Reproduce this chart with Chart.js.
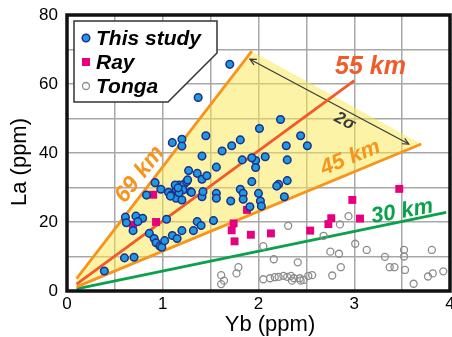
<!DOCTYPE html>
<html>
<head>
<meta charset="utf-8">
<script src="https://cdn.jsdelivr.net/npm/chart.js@4/dist/chart.umd.min.js"></script>
<style>
  html, body { margin: 0; padding: 0; background: #fff; }
</style>
</head>
<body>
<canvas id="chart" width="452" height="337"></canvas>
<script>
// Yb / La data (ppm)
const thisStudyYb = [0.39,0.60,0.70,0.61,0.62,0.72,0.69,0.79,0.74,0.83,0.92,0.98,0.86,0.91,0.93,0.97,0.99,1.02,1.04,1.06,1.09,1.10,1.15,1.20,1.32,1.36,1.40,1.53,1.14,1.17,1.22,1.25,1.26,1.21,1.29,1.14,1.20,1.17,1.08,1.27,1.36,1.41,1.46,1.56,1.41,1.42,1.56,1.56,1.71,1.41,1.62,1.83,1.97,1.97,2.07,1.93,2.30,1.93,1.81,1.84,2.00,1.84,2.02,2.03,1.91,2.21,2.19,2.30,2.27,1.70,1.37,1.10,1.20,1.20,1.45,1.72,1.81,2.01,2.23,2.44,2.29,2.51,1.30,1.13,1.16];
const thisStudyLa = [5.8,9.6,9.8,21.4,19.8,21.7,17.5,21.1,20.1,27.8,31.4,29.5,16.7,15.2,14.0,13.0,12.7,14.6,20.8,28.6,27.8,16.1,15.2,17.5,17.5,20.1,19.0,20.4,29.5,30.7,30.9,31.7,32.2,29.3,28.8,26.9,26.4,28.5,27.5,34.9,34.1,32.4,33.4,35.9,27.3,28.8,28.3,26.9,26.1,39.1,40.6,38.0,37.8,35.8,38.9,38.6,38.0,31.7,29.5,28.3,28.3,26.6,26.1,24.6,24.4,30.9,30.4,32.0,27.3,65.7,56.1,43.0,44.0,42.0,45.0,42.1,43.8,47.1,49.7,45.0,42.1,42.1,28.6,30.7,29.9];

const rayYb = [0.69,0.90,0.93,1.72,1.74,1.75,1.88,1.92,2.13,2.54,2.73,2.76,2.98,3.06,3.47];
const rayLa = [19.2,27.9,20.0,17.6,19.6,14.4,23.5,16.3,16.7,17.5,19.4,21.1,26.4,21.0,29.6];

const tongaYb = [1.61,1.64,1.61,1.77,1.79,2.05,2.05,2.12,2.17,2.21,2.26,2.30,2.34,2.37,2.35,2.43,2.44,2.47,2.52,2.56,2.16,2.41,2.31,2.68,2.85,2.94,2.75,2.84,3.01,3.13,3.32,3.52,3.52,3.81,2.86,2.77,3.37,3.42,3.53,3.62,3.77,3.82,3.93];
const tongaLa = [4.6,3.0,2.0,5.1,6.9,13.0,3.4,3.7,4.0,4.1,4.4,4.1,4.4,3.7,3.0,3.7,3.0,3.2,4.4,4.6,9.2,8.3,18.9,16.0,19.3,21.7,11.4,10.8,13.7,11.9,9.9,11.9,10.0,11.9,6.9,4.5,6.9,6.9,6.1,2.1,4.2,5.1,5.7];

// crustal-thickness reference lines (start/end)
const line69Yb = [0.1, 1.93], line69La = [3.6, 69.5];
const line55Yb = [0.1, 3.0],  line55La = [2.0, 61.0];
const line45Yb = [0.1, 3.7],  line45La = [1.2, 42.6];
const line30Yb = [0.1, 3.96], line30La = [0.6, 22.8];

// shaded 2-sigma field
const fieldYb = [0.1, 1.93, 3.7, 0.1];
const fieldLa = [3.6, 69.5, 42.6, 1.2];

// 2-sigma arrow
const sigmaYb = [1.91, 3.57];
const sigmaLa = [67.2, 42.6];

const xTicks = [0, 1, 2, 3, 4];
const yTicks = [0, 20, 40, 60, 80];

const pts = (xs, ys) => xs.map((v, i) => ({ x: v, y: ys[i] }));

const ORANGE = '#f7941d';
const RED = '#f15a29';
const GREEN = '#0aa14b';
const FONT = '"Liberation Sans", Arial, sans-serif';

const lineLabels = [
    { text: '55 km', x: 3.17, y: 65.0, rot: 0, size: 25, color: RED },
    { text: '45 km', x: 2.96, y: 38.6, rot: -22, size: 22, color: ORANGE },
    { text: '30 km', x: 3.5, y: 23.0, rot: -10, size: 22, color: GREEN },
    { text: '69 km', x: 0.76, y: 33.8, rot: -52, size: 23, color: ORANGE }
];

function lineSet(xs, ys, color) {
    return {
        type: 'line',
        data: pts(xs, ys),
        borderColor: color,
        borderWidth: 2.8,
        pointRadius: 0,
        fill: false,
        order: 5
    };
}

const annotate = {
    id: 'annotate',
    afterDatasetsDraw(chart) {
        const { ctx, chartArea: a, scales: { x, y } } = chart;
        ctx.save();

        // arrow heads on the 2 sigma line
        const p0 = { x: x.getPixelForValue(sigmaYb[0]), y: y.getPixelForValue(sigmaLa[0]) };
        const p1 = { x: x.getPixelForValue(sigmaYb[1]), y: y.getPixelForValue(sigmaLa[1]) };
        const ang = Math.atan2(p1.y - p0.y, p1.x - p0.x);
        ctx.strokeStyle = '#3a3a3a';
        ctx.lineWidth = 1.2;
        [[p1, ang], [p0, ang + Math.PI]].forEach(([p, t]) => {
            ctx.beginPath();
            ctx.moveTo(p.x - 7 * Math.cos(t - 0.45), p.y - 7 * Math.sin(t - 0.45));
            ctx.lineTo(p.x, p.y);
            ctx.lineTo(p.x - 7 * Math.cos(t + 0.45), p.y - 7 * Math.sin(t + 0.45));
            ctx.stroke();
        });

        // 2 sigma label
        ctx.save();
        ctx.translate(x.getPixelForValue(2.9), y.getPixelForValue(49.2));
        ctx.rotate(ang);
        ctx.fillStyle = '#3a3a3a';
        ctx.font = 'italic bold 17px ' + FONT;
        ctx.textAlign = 'center';
        ctx.textBaseline = 'middle';
        ctx.fillText('2σ', 0, 0);
        ctx.restore();

        // km labels
        lineLabels.forEach(l => {
            ctx.save();
            ctx.translate(x.getPixelForValue(l.x), y.getPixelForValue(l.y));
            ctx.rotate(l.rot * Math.PI / 180);
            ctx.fillStyle = l.color;
            ctx.font = 'italic bold ' + l.size + 'px ' + FONT;
            ctx.textAlign = 'center';
            ctx.textBaseline = 'middle';
            ctx.fillText(l.text, 0, 0);
            ctx.restore();
        });

        // plot frame
        ctx.strokeStyle = '#111';
        ctx.lineWidth = 3.5;
        ctx.strokeRect(a.left, a.top, a.right - a.left, a.bottom - a.top);

        // axis titles
        ctx.fillStyle = '#000';
        ctx.font = '22px ' + FONT;
        ctx.textAlign = 'center';
        ctx.textBaseline = 'middle';
        ctx.fillText('Yb (ppm)', 270, 325);
        ctx.save();
        ctx.translate(20, 162);
        ctx.rotate(-Math.PI / 2);
        ctx.fillText('La (ppm)', 0, 0);
        ctx.restore();

        // legend box with clipped corner
        ctx.beginPath();
        ctx.moveTo(74, 21);
        ctx.lineTo(217, 21);
        ctx.lineTo(217, 53);
        ctx.lineTo(168, 102);
        ctx.lineTo(74, 102);
        ctx.closePath();
        ctx.fillStyle = '#fff';
        ctx.fill();
        ctx.strokeStyle = '#333';
        ctx.lineWidth = 1.5;
        ctx.stroke();

        const rows = [
            { text: 'This study', y: 38 },
            { text: 'Ray', y: 62 },
            { text: 'Tonga', y: 86 }
        ];
        // markers
        ctx.beginPath();
        ctx.arc(86, rows[0].y, 3.8, 0, Math.PI * 2);
        ctx.fillStyle = '#1e9be0';
        ctx.fill();
        ctx.strokeStyle = '#1f2f8a';
        ctx.lineWidth = 1.5;
        ctx.stroke();
        ctx.fillStyle = '#e6007e';
        ctx.fillRect(82, rows[1].y - 4, 8, 8);
        ctx.beginPath();
        ctx.arc(86, rows[2].y, 3.5, 0, Math.PI * 2);
        ctx.strokeStyle = '#8c8c8c';
        ctx.lineWidth = 1.3;
        ctx.stroke();

        ctx.fillStyle = '#000';
        ctx.font = 'italic bold 21px ' + FONT;
        ctx.textAlign = 'left';
        ctx.textBaseline = 'middle';
        rows.forEach(r => ctx.fillText(r.text, 96, r.y + 1));

        ctx.restore();
    }
};

const ctx = document.getElementById('chart').getContext('2d');
new Chart(ctx, {
    type: 'scatter',
    data: {
        datasets: [
            {
                label: 'This study',
                data: pts(thisStudyYb, thisStudyLa),
                pointRadius: 3.8,
                pointBackgroundColor: '#1e9be0',
                pointBorderColor: '#1f2f8a',
                pointBorderWidth: 1.5,
                order: 1
            },
            {
                label: 'Ray',
                data: pts(rayYb, rayLa),
                pointStyle: 'rect',
                pointRadius: 5.6,
                pointBackgroundColor: '#e6007e',
                pointBorderWidth: 0,
                order: 2
            },
            {
                label: 'Tonga',
                data: pts(tongaYb, tongaLa),
                pointRadius: 3.5,
                pointBackgroundColor: 'rgba(255,255,255,0)',
                pointBorderColor: '#8c8c8c',
                pointBorderWidth: 1.3,
                order: 3
            },
            lineSet(line69Yb, line69La, ORANGE),
            lineSet(line55Yb, line55La, RED),
            lineSet(line45Yb, line45La, ORANGE),
            lineSet(line30Yb, line30La, GREEN),
            {
                type: 'line',
                data: pts(sigmaYb, sigmaLa),
                borderColor: '#3a3a3a',
                borderWidth: 1.2,
                pointRadius: 0,
                fill: false,
                order: 6
            },
            {
                type: 'line',
                data: pts(fieldYb, fieldLa),
                borderWidth: 0,
                borderColor: 'rgba(0,0,0,0)',
                backgroundColor: 'rgba(249,232,80,0.5)',
                pointRadius: 0,
                fill: 'shape',
                tension: 0,
                order: 9
            }
        ]
    },
    options: {
        responsive: false,
        animation: false,
        devicePixelRatio: 1,
        layout: { autoPadding: false, padding: { top: 15, right: 2, left: 0, bottom: 0 } },
        plugins: {
            legend: { display: false },
            tooltip: { enabled: false }
        },
        scales: {
            x: {
                type: 'linear',
                min: 0,
                max: 4,
                afterFit: s => { s.height = 46; s.paddingLeft = 0; s.paddingRight = 0; },
                ticks: {
                    stepSize: 0.5,
                    autoSkip: false,
                    maxRotation: 0,
                    padding: 3,
                    color: '#000',
                    font: { family: FONT, size: 17 },
                    callback: v => xTicks.includes(v) ? String(v) : ''
                },
                grid: { color: '#a8a8a8', lineWidth: 1.5, drawTicks: false },
                border: { display: false }
            },
            y: {
                type: 'linear',
                min: 0,
                max: 80,
                afterFit: s => { s.width = 67; s.paddingTop = 0; s.paddingBottom = 0; },
                ticks: {
                    stepSize: 10,
                    autoSkip: false,
                    padding: 9,
                    color: '#000',
                    font: { family: FONT, size: 17 },
                    callback: v => yTicks.includes(v) ? String(v) : ''
                },
                grid: { color: '#a8a8a8', lineWidth: 1.5, drawTicks: false },
                border: { display: false }
            }
        }
    },
    plugins: [annotate]
});
</script>
</body>
</html>
